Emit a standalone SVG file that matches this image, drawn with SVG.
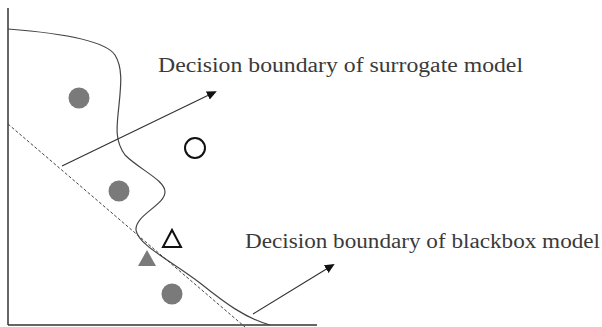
<svg xmlns="http://www.w3.org/2000/svg" width="602" height="327" viewBox="0 0 602 327">
<style>
.ax{stroke:#333;stroke-width:1.5;fill:none}
.bd{stroke:#444;stroke-width:1.2;fill:none}
.dash{stroke:#444;stroke-width:1;fill:none;stroke-dasharray:3,2}
.arr{stroke:#333;stroke-width:1.2;fill:none;marker-end:url(#ah)}
.gray{fill:#7a7a7a}
.open{fill:#fff;stroke:#111;stroke-width:2}
.lbl{font-family:"Liberation Serif","DejaVu Serif",serif;font-size:20px;fill:#3a3a3a}
</style>
<defs>
<marker id="ah" markerWidth="10" markerHeight="10" refX="8" refY="5" orient="auto" markerUnits="userSpaceOnUse">
<path d="M0,0.5 L10,5 L0,9.5 z" fill="#111"/>
</marker>
</defs>
<rect width="602" height="327" fill="#fff"/>
<g id="axes">
<line class="ax" x1="8" y1="8" x2="8" y2="325"/>
<line class="ax" x1="8" y1="325" x2="317" y2="325"/>
</g>
<g id="surrogate-boundary">
<path class="bd" d="M8,29 C60,33 105,40 115,55 C123,68 121,85 119,105 C117,125 114,140 125,155 C140,170 165,180 165,192 C165,205 135,215 136,230 C138,245 170,260 200,283 C225,303 245,318 270,325"/>
</g>
<g id="blackbox-boundary">
<line class="dash" x1="8" y1="124" x2="245" y2="327"/>
</g>
<g id="points">
<circle class="gray" cx="79" cy="98" r="10.5"/>
<circle class="gray" cx="119" cy="191" r="10.5"/>
<circle class="gray" cx="172" cy="294" r="10.5"/>
<circle class="open" cx="195" cy="148" r="10"/>
<polygon class="open" points="163,247 181,247 172,230"/>
<polygon class="gray" points="138,266 156,266 147,250"/>
</g>
<g id="connectors">
<line class="arr" x1="62" y1="166" x2="215" y2="92"/>
<line class="arr" x1="253" y1="314" x2="333" y2="265"/>
</g>
<g id="label-surrogate">
<text class="lbl" x="158" y="72" textLength="365" lengthAdjust="spacingAndGlyphs">Decision boundary of surrogate model</text>
</g>
<g id="label-blackbox">
<text class="lbl" x="245" y="248" textLength="355" lengthAdjust="spacingAndGlyphs">Decision boundary of blackbox model</text>
</g>
</svg>
